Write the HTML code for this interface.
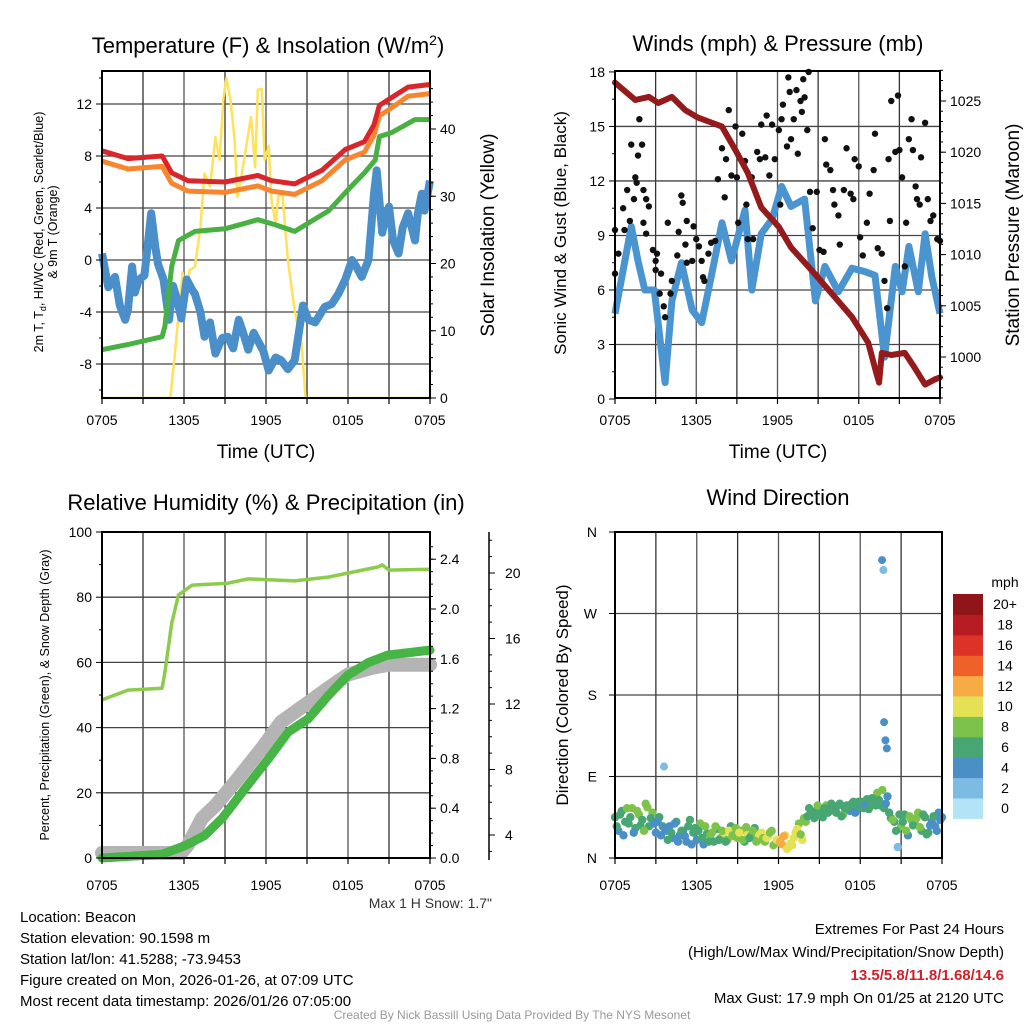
<!DOCTYPE html>
<html><head><meta charset="utf-8"><style>
body{margin:0;background:#fff;}
svg text{font-family:"Liberation Sans",sans-serif;}
</style></head><body>
<svg id="c" width="1024" height="1024" viewBox="0 0 1024 1024" xmlns="http://www.w3.org/2000/svg">
<rect width="1024" height="1024" fill="#fff"/>
</svg>
<script>
// ---------- Panel 1 data ----------
const p1RedT=[0,1.9,4.4,5.1,6.3,9,11.4,12.4,14.1,16.1,17.8,19.2,19.9,20.3,20.9,22.4,24];
const p1RedV=[8.4,7.8,8.0,6.7,6.1,6.0,6.5,6.1,5.85,6.9,8.5,9.1,10.4,11.9,12.3,13.3,13.5];
const p1OrangeV=[7.6,7.0,7.2,5.9,5.3,5.2,5.7,5.3,5.05,6.1,7.7,8.3,9.6,11.1,11.5,12.6,12.8];
const p1GreenT=[0,1.9,4.4,4.6,5.1,5.6,6.8,9,11.4,12.7,14.1,16.6,18,19.2,20,20.3,21.2,22.9,24];
const p1GreenV=[-6.9,-6.5,-5.9,-5.1,-0.5,1.5,2.2,2.4,3.1,2.7,2.2,3.8,5.4,6.7,7.7,9.5,9.8,10.8,10.8];
const p1BlueT=[0,0.46,0.95,1.3,1.7,1.9,2.2,2.4,2.7,3.1,3.6,3.9,4.1,4.5,4.9,5.2,5.5,5.8,6.2,6.6,6.8,7.2,7.5,7.9,8.3,8.8,9.2,9.6,10,10.3,10.7,11.1,11.4,11.8,12.2,12.7,13.1,13.6,14.1,14.4,14.7,15.1,15.6,16.3,16.8,17.3,17.8,18.3,18.6,19,19.5,19.9,20.1,20.5,20.7,21,21.3,21.7,22,22.4,22.9,23.1,23.4,23.6,24];
const p1BlueV=[0.5,-2.1,-1.3,-3.5,-4.6,-3.8,-0.5,-2.5,-1.5,-1.2,3.6,1.0,-0.3,-1.5,-4.6,-2.0,-3.1,-4.5,-1.5,-2.3,-2.6,-4,-5.9,-4.8,-7.2,-6.0,-5.9,-6.8,-4.6,-5.5,-6.9,-5.6,-6.2,-7.0,-8.5,-7.5,-7.7,-8.4,-7.7,-5.6,-3.5,-4.6,-4.8,-3.6,-3.4,-2.6,-1.5,0,-0.5,-1.3,0,5.1,6.9,2.1,3.2,4.1,1.5,0.5,2.5,3.6,1.5,3.5,5.1,3.8,6.1];
const p1SolT=[0,5.0,5.3,5.9,6.1,6.4,6.8,7.2,7.5,7.9,8.3,8.6,8.9,9.1,9.4,9.7,9.9,10.2,10.6,10.9,11.2,11.4,11.7,11.9,12.2,12.4,12.7,12.9,13.2,13.6,14.1,14.6,14.9,24];
const p1SolV=[0,0,5.8,18.7,13.7,19,19.5,25.4,33.4,31.4,38.8,35.4,44.8,47.6,44.3,38.4,29.9,33,38,41.8,34.3,45.8,46,35.4,37.5,29.4,26,30,30.3,20.5,13,8.2,0,0];
const p1LeftTicks=[-8,-4,0,4,8,12];
const p1RightTicks=[0,10,20,30,40];
const timeLabels=["0705","1305","1905","0105","0705"];
// ---------- Panel 2 data ----------
const p2PresT=[0,1.5,2.5,3.2,4.2,5.2,6.1,7.3,7.9,8.9,9.8,10.8,12.1,13.0,14.5,16.0,17.5,18.7,19.3,19.5,19.7,20.4,21.4,22.1,22.9,23.6,24];
const p2PresV=[1026.8,1025.1,1025.4,1024.8,1025.4,1024.1,1023.4,1022.8,1022.5,1020.2,1018,1014.6,1012.7,1010.7,1008.5,1006.2,1003.9,1001.4,998.4,997.5,1000.4,1000.2,1000.4,999,997.3,997.8,998];
const p2WindT=[0,0.5,1.2,1.7,2.2,2.9,3.7,4.2,4.9,5.7,6.4,7.1,7.9,8.6,9.6,10.1,10.8,11.6,12.3,13.0,14.0,14.8,15.5,16.5,17.5,18.5,19.2,19.9,20.7,21.2,21.7,22.4,22.9,23.4,24];
const p2WindV=[4.7,6.7,9.5,7.6,6.0,6.0,0.9,5.4,7.5,4.9,4.2,6.7,9.7,7.6,10.4,6.0,9.1,9.9,11.7,10.6,11.0,5.4,7.3,5.9,7.2,7.0,6.8,2.3,7.3,5.9,8.4,5.9,9.1,6.7,4.7];
const p2GustT=[0,0,0.25,0.6,0.7,0.9,1.1,1.2,1.4,1.5,1.6,1.7,1.8,2.0,2.1,2.1,2.3,2.5,2.3,2.8,3.0,3.1,3.0,3.3,3.4,3.6,3.7,3.9,4.1,4.2,4.6,4.7,4.9,5.0,5.2,5.3,5.3,5.7,5.8,6.0,6.2,6.4,6.5,6.6,6.9,7.1,7.4,7.6,7.9,8.1,8.2,8.4,8.6,8.9,9.0,9.1,9.4,9.6,9.7,9.8,10.1,10.2,10.5,10.7,10.8,11.1,11.2,11.4,11.6,11.8,12.1,12.2,12.3,12.4,12.7,12.8,12.9,13.0,13.2,13.4,13.5,13.7,13.8,13.9,14.0,14.2,14.3,14.4,14.6,14.9,15.1,15.4,15.5,15.6,15.9,16.1,16.2,16.5,16.6,16.9,17.1,17.4,17.6,17.7,18.0,18.1,18.3,18.6,18.8,19.1,19.2,19.4,19.7,19.9,20.1,20.2,20.3,20.4,20.7,20.9,21.0,21.2,21.4,21.5,21.7,21.9,22.0,22.2,22.3,22.5,22.6,22.9,23.1,23.3,23.5,23.8,24.0];
const p2GustV=[6.9,9.3,8.0,10.5,9.3,11.5,9.8,14.0,11.0,12.2,11.9,13.4,15.4,14.0,11.5,9.7,11.0,10.6,9.1,8.2,7.6,8.0,7.1,5.8,6.9,5.1,4.5,9.7,5.8,6.5,7.9,9.2,11.2,10.8,8.5,9.8,7.5,7.6,9.5,8.8,8.4,7.6,6.7,6.5,8.0,8.6,8.7,12.1,13.8,11.1,13.2,15.9,12.3,15.0,12.2,9.7,14.6,13.1,10.7,8.8,12.2,8.8,13.6,13.2,15.1,13.3,15.6,12.3,15.1,13.2,14.8,10.7,15.4,16.2,13.9,17.7,16.9,14.3,15.4,17.0,13.5,16.4,15.8,17.6,16.6,14.8,18.0,11.4,9.4,11.4,8.2,8.1,14.3,12.9,12.6,11.5,10.7,10.1,8.5,11.5,13.8,11.3,11.0,13.2,12.8,8.9,7.9,9.7,11.3,12.6,14.6,8.3,8.0,6.5,5.0,13.2,9.8,16.4,13.6,16.7,13.7,12.2,7.3,9.7,14.3,15.4,13.7,11.7,11.0,10.7,13.3,15.2,11.0,9.8,10.1,8.8,8.7];
const p2LeftTicks=[0,3,6,9,12,15,18];
const p2RightTicks=[1000,1005,1010,1015,1020,1025];
// ---------- Panel 3 data ----------
const p3RhT=[0,1.9,4.4,4.6,5.1,5.6,6.6,9.2,10.7,14.1,16.6,20.2,20.5,21,24];
const p3RhV=[48.5,51.5,52.1,57,72,80.7,83.7,84.3,85.6,85,86.2,89.3,89.9,88.3,88.6];
const p3PrecT=[0,4.4,6.1,7.5,8.8,10.7,12.2,13.6,15.1,16.6,18,19.5,20.9,24];
const p3PrecV=[0,0.03,0.1,0.18,0.32,0.59,0.8,1.01,1.12,1.31,1.47,1.57,1.63,1.67];
const p3SnowT=[0,5.8,6.3,7.3,8.3,9.7,11.7,13.1,15.1,16.6,18,19.7,21,24];
const p3SnowV=[2.9,2.9,3.4,5.0,5.8,7.2,9.3,10.9,12.1,13.0,13.8,14.2,14.4,14.4];
const p3LeftTicks=[0,20,40,60,80,100];
const p3PrecTicks=["0.0","0.4","0.8","1.2","1.6","2.0","2.4"];
const p3SnowTicks=[4,8,12,16,20];
// ---------- Panel 4 data ----------
const p4Dir=[45,30,52,40,38,55,33,48,42,60,35,50,28,45,35,30,35,22,40,25,30,18,42,28,20,38,15,27,25,18,32,22,28,20,35,24,22,30,18,26,25,33,20,28,18,24,30,16,20,15,25,12,14,28,38,20,40,55,48,52,50,45,58,52,55,50,60,48,58,52,62,55,60,55,65,58,62,72,58,55,68,44,40,12,35,48,25,42,38,50,30,45,28,40,35,50,45];
const p4Spd=[6,5,7,6,7,8,6,9,7,9,6,8,5,6,6,4,5,4,6,5,4,5,7,6,5,8,4,7,8,7,6,9,10,8,7,9,8,9,7,10,9,7,8,10,9,10,8,11,12,13,11,10,11,10,9,11,8,6,7,6,7,6,8,6,6,7,6,8,6,5,6,7,5,6,6,7,6,8,6,7,5,6,7,3,8,6,5,9,9,8,6,7,6,5,5,4,5];
const p4Dir2=[35,48,25,55,45,28,52,36,30,56,44,38,40,25,33,20,28,38,18,30,24,35,15,33,30,22,35,18,28,35,20,30,18,30,25,33,28,20,34,22,30,18,26,22,22,28,14,20,18,24,10,16,22,32,26,44,46,52,44,58,48,55,50,60,52,58,46,55,56,60,50,62,62,58,54,66,58,64,75,60,50,42,30,48,40,30,46,36,44,34,48,26,36,46,30,42];
const p4Spd2=[7,6,5,8,6,5,8,7,8,9,6,5,4,5,4,6,6,4,5,6,5,6,4,7,7,6,8,6,9,8,7,8,7,10,8,9,10,8,9,7,8,9,10,9,10,8,9,11,13,12,10,11,10,11,9,8,7,6,7,8,6,7,6,6,7,6,6,7,6,7,5,6,6,5,7,6,7,6,8,5,6,8,7,6,7,8,9,6,8,9,7,6,5,6,4,5];
const p4OutT=[19.6,19.7,3.6,19.75,19.85,19.95];
const p4OutDir=[329,318,101,150,130,121];
const p4OutSpd=[5,3,3,5,5,5];
const p4DirLabels=["N","E","S","W","N"];
const cbLabels=["0","2","4","6","8","10","12","14","16","18","20+"];
const cbColors=["#b3e3f7","#7dbbe4","#4a8fc6","#48a673","#7dc24a","#e5e155","#f6ab45","#ef6128","#dc3228","#b81c23","#8f1518"];

const NS="http://www.w3.org/2000/svg";
const svg=document.getElementById('c');
function el(tag,attrs,parent,txt){const e=document.createElementNS(NS,tag);for(const k in attrs)e.setAttribute(k,attrs[k]);if(txt!==undefined)e.textContent=txt;(parent||svg).appendChild(e);return e;}
function grp(name){const g=el('g',{});return g;}
function text(g,x,y,s,size,opts){opts=opts||{};const t=el('text',{x:x,y:y,'font-size':size,'text-anchor':opts.anchor||'middle',fill:opts.fill||'#000'},g,s);if(opts.rot)t.setAttribute('transform','rotate(-90 '+x+' '+y+')');if(opts.weight)t.setAttribute('font-weight',opts.weight);return t;}
function linePath(ts,vs,xf,yf){return ts.map((t,i)=>(i?'L':'M')+xf(t).toFixed(1)+' '+yf(vs[i]).toFixed(1)).join(' ');}

function frame(g,L,R,T,B,hLines){
  for(let h=3;h<24;h+=3){const x=L+(R-L)*h/24;el('line',{x1:x,y1:T,x2:x,y2:B,stroke:h%6?'#333':'#555','stroke-width':1.3},g);}
  hLines.forEach(y=>el('line',{x1:L,y1:y,x2:R,y2:y,stroke:'#444','stroke-width':1.3},g));
}
function box(g,L,R,T,B){el('rect',{x:L,y:T,width:R-L,height:B-T,fill:'none',stroke:'#000','stroke-width':2},g);}
function xTicks(g,L,R,B,ly){
  timeLabels.forEach((s,i)=>{const x=L+(R-L)*i/4;const t=text(g,x,ly,s,14);});
  for(let h=0;h<=24;h+=3){const x=L+(R-L)*h/24;el('line',{x1:x,y1:B,x2:x,y2:B+6,stroke:'#000','stroke-width':1.2},g);}
}

// ================= PANEL 1 =================
(function(){
 const g=grp('temperature-panel');
 const L=102,R=430,T=71,B=398;
 const x=t=>L+(R-L)*t/24;
 const y=v=>260-v*13;
 const y2=v=>398-v*6.725;
 frame(g,L,R,T,B,p1LeftTicks.map(y));
 const sol=el('path',{d:linePath(p1SolT,p1SolV,x,y2),fill:'none',stroke:'#fde25a','stroke-width':2.5,'stroke-linejoin':'round'},g);
 
 const bl=el('path',{d:linePath(p1BlueT,p1BlueV,x,y),fill:'none',stroke:'#4a8fc9','stroke-width':8,'stroke-linejoin':'round'},g);
 
 const gr=el('path',{d:linePath(p1GreenT,p1GreenV,x,y),fill:'none',stroke:'#48b142','stroke-width':5,'stroke-linejoin':'round'},g);
 
 const or=el('path',{d:linePath(p1RedT,p1OrangeV,x,y),fill:'none',stroke:'#f8862e','stroke-width':5,'stroke-linejoin':'round'},g);
 
 const rd=el('path',{d:linePath(p1RedT,p1RedV,x,y),fill:'none',stroke:'#d8262b','stroke-width':5,'stroke-linejoin':'round'},g);
 
 box(g,L,R,T,B);
 p1LeftTicks.forEach(v=>{el('line',{x1:L-6,y1:y(v),x2:L,y2:y(v),stroke:'#000'},g);const t=text(g,L-10,y(v)+5,String(v),14,{anchor:'end'});});
 for(let v=-10;v<=14;v+=2)el('line',{x1:L-3,y1:y(v),x2:L,y2:y(v),stroke:'#000'},g);
 p1RightTicks.forEach(v=>{el('line',{x1:R,y1:y2(v),x2:R+6,y2:y2(v),stroke:'#000'},g);const t=text(g,R+10,y2(v)+5,String(v),14,{anchor:'start'});});
 for(let v=0;v<=46;v+=2)el('line',{x1:R,y1:y2(v),x2:R+3,y2:y2(v),stroke:'#000'},g);
 xTicks(g,L,R,B,425);
 const tt=el('text',{x:268,y:53,'font-size':22,'text-anchor':'middle'},g);tt.innerHTML='Temperature (F) &amp; Insolation (W/m<tspan dy="-8" font-size="14">2</tspan><tspan dy="8">)</tspan>';
 
 const xl=text(g,266,458,'Time (UTC)',19);
 const yl=el('text',{x:43,y:232,'font-size':12.5,'text-anchor':'middle',transform:'rotate(-90 43 232)'},g);yl.innerHTML='2m T, T<tspan dy="3" font-size="9">d</tspan><tspan dy="-3">, HI/WC (Red, Green, Scarlet/Blue)</tspan>';
 
 const yl2=text(g,57,232,'& 9m T (Orange)',12.5,{rot:true});
 const yr=text(g,494,235,'Solar Insolation (Yellow)',19,{rot:true});
})();

// ================= PANEL 2 =================
(function(){
 const g=grp('winds-panel');
 const L=615,R=940,T=71,B=398;
 const x=t=>L+(R-L)*t/24;
 const y=v=>399-v*18.17;
 const y2=p=>357-(p-1000)*10.24;
 frame(g,L,R,T,B,p2LeftTicks.slice(1,6).map(y));
 const bl=el('path',{d:linePath(p2WindT,p2WindV,x,y),fill:'none',stroke:'#4a94d0','stroke-width':7,'stroke-linejoin':'round'},g);
 
 p2GustT.forEach((t,i)=>{const c=el('circle',{cx:x(t),cy:y(p2GustV[i]),r:3.2,fill:'#111'},g);
  });
 const pr=el('path',{d:linePath(p2PresT,p2PresV,x,y2),fill:'none',stroke:'#941a1c','stroke-width':6,'stroke-linejoin':'round','stroke-linecap':'round'},g);
 
 box(g,L,R,T,B);
 p2LeftTicks.forEach(v=>{el('line',{x1:L-6,y1:y(v),x2:L,y2:y(v),stroke:'#000'},g);const t=text(g,L-10,y(v)+5,String(v),14,{anchor:'end'});});
 for(let v=1.5;v<18;v+=3)el('line',{x1:L-3,y1:y(v),x2:L,y2:y(v),stroke:'#000'},g);
 p2RightTicks.forEach(v=>{el('line',{x1:R,y1:y2(v),x2:R+6,y2:y2(v),stroke:'#000'},g);const t=text(g,R+10,y2(v)+5,String(v),14,{anchor:'start'});});
 for(let v=996;v<=1028;v++)el('line',{x1:R,y1:y2(v),x2:R+3,y2:y2(v),stroke:'#000'},g);
 xTicks(g,L,R,B,425);
 const tt=text(g,778,51,'Winds (mph) & Pressure (mb)',22);
 const xl=text(g,778,458,'Time (UTC)',19);
 const yl=text(g,566,233,'Sonic Wind & Gust (Blue, Black)',17,{rot:true});
 const yr=text(g,1019,235,'Station Pressure (Maroon)',19,{rot:true});
})();

// ================= PANEL 3 =================
(function(){
 const g=grp('humidity-panel');
 const L=102,R=430,T=532,B=858;
 const x=t=>L+(R-L)*t/24;
 const y=v=>858-v*3.26;
 const yp=p=>858-p*124.5;
 const ys=s=>835-(s-4)*16.375;
 frame(g,L,R,T,B,[20,40,60,80].map(y));
 const sn=el('path',{d:linePath(p3SnowT,p3SnowV,x,ys),fill:'none',stroke:'#b4b4b4','stroke-width':14,'stroke-linejoin':'round','stroke-linecap':'round'},g);
 
 const pc=el('path',{d:linePath(p3PrecT,p3PrecV,x,yp),fill:'none',stroke:'#46b546','stroke-width':9,'stroke-linejoin':'round','stroke-linecap':'round'},g);
 
 const rh=el('path',{d:linePath(p3RhT,p3RhV,x,y),fill:'none',stroke:'#8dcb4c','stroke-width':3.5,'stroke-linejoin':'round'},g);
 
 box(g,L,R,T,B);
 p3LeftTicks.forEach(v=>{el('line',{x1:L-6,y1:y(v),x2:L,y2:y(v),stroke:'#000'},g);const t=text(g,L-10,y(v)+5,String(v),14,{anchor:'end'});});
 for(let v=10;v<100;v+=20)el('line',{x1:L-3,y1:y(v),x2:L,y2:y(v),stroke:'#000'},g);
 p3PrecTicks.forEach(s=>{const v=parseFloat(s);el('line',{x1:R,y1:yp(v),x2:R+6,y2:yp(v),stroke:'#000'},g);const t=text(g,R+10,yp(v)+5,s,14,{anchor:'start'});});
 for(let v=0.1;v<2.6;v+=0.1)el('line',{x1:R,y1:yp(v),x2:R+3,y2:yp(v),stroke:'#000'},g);
 el('line',{x1:489,y1:532,x2:489,y2:860,stroke:'#000','stroke-width':1.5},g);
 p3SnowTicks.forEach(v=>{el('line',{x1:489,y1:ys(v),x2:495,y2:ys(v),stroke:'#000'},g);const t=text(g,505,ys(v)+5,String(v),14,{anchor:'start'});});
 for(let v=3;v<=22;v++)el('line',{x1:489,y1:ys(v),x2:492,y2:ys(v),stroke:'#000'},g);
 xTicks(g,L,R,B,890);
 const tt=text(g,266,510,'Relative Humidity (%) & Precipitation (in)',22);
 const yl=text(g,49,695,'Percent, Precipitation (Green), & Snow Depth (Gray)',12.5,{rot:true});
 const ms=text(g,492,908,'Max 1 H Snow: 1.7"',14,{anchor:'end',fill:'#333'});
})();

// ================= PANEL 4 =================
(function(){
 const g=grp('wind-direction-panel');
 const L=615,R=942,T=532,B=858;
 const x=t=>L+(R-L)*t/24;
 const y=d=>858-d*(326/360);
 const col=s=>cbColors[Math.min(10,Math.floor(s/2))];
 frame(g,L,R,T,B,[90,180,270].map(y));
 p4Dir.forEach((d,i)=>{const c=el('circle',{cx:x(i*0.25),cy:y(d),r:4.2,fill:col(p4Spd[i])},g);
  });
 p4Dir2.forEach((d,i)=>{const c=el('circle',{cx:x(i*0.25+0.125),cy:y(d),r:4.2,fill:col(p4Spd2[i])},g);
  });
 p4OutT.forEach((t,i)=>{const c=el('circle',{cx:x(t),cy:y(p4OutDir[i]),r:4,fill:col(p4OutSpd[i])},g);
  });
 box(g,L,R,T,B);
 p4DirLabels.forEach((s,i)=>{const yy=y(i*90);el('line',{x1:L-6,y1:yy,x2:L,y2:yy,stroke:'#000'},g);const t=text(g,L-18,yy+5,s,14,{anchor:'end'});});
 xTicks(g,L,R,B,890);
 const tt=text(g,778,505,'Wind Direction',22);
 const yl=text(g,568,695,'Direction (Colored By Speed)',17,{rot:true});
 const cb=grp('speed-colorbar');
 const cbT=594,cbH=20.4;
 for(let i=0;i<11;i++){const yy=cbT+(10-i)*cbH;const r=el('rect',{x:953,y:yy,width:30,height:cbH+0.5,fill:cbColors[i]},cb);
  
  const t=text(cb,1005,yy+cbH/2+5,cbLabels[i],14);}
 const u=text(cb,1005,587,'mph',14);
})();

// ================= FOOTER =================
(function(){
 const g=grp('station-info');
 ["Location: Beacon","Station elevation: 90.1598 m","Station lat/lon: 41.5288; -73.9453","Figure created on Mon, 2026-01-26, at 07:09 UTC","Most recent data timestamp: 2026/01/26 07:05:00"].forEach((s,i)=>{
  const t=text(g,20,922+i*21,s,15,{anchor:'start'});});
 const e=grp('extremes-summary');
 const a=text(e,1004,934,'Extremes For Past 24 Hours',15,{anchor:'end'});
 const b=text(e,1004,957,'(High/Low/Max Wind/Precipitation/Snow Depth)',15,{anchor:'end'});
 const c=text(e,1004,980,'13.5/5.8/11.8/1.68/14.6',15,{anchor:'end',fill:'#d02128',weight:'bold'});
 const d=text(e,1004,1003,'Max Gust: 17.9 mph On 01/25 at 2120 UTC',15,{anchor:'end'});
 const f=text(svg,512,1019,'Created By Nick Bassill Using Data Provided By The NYS Mesonet',12,{fill:'#999'});
})();
</script>
</body></html>
